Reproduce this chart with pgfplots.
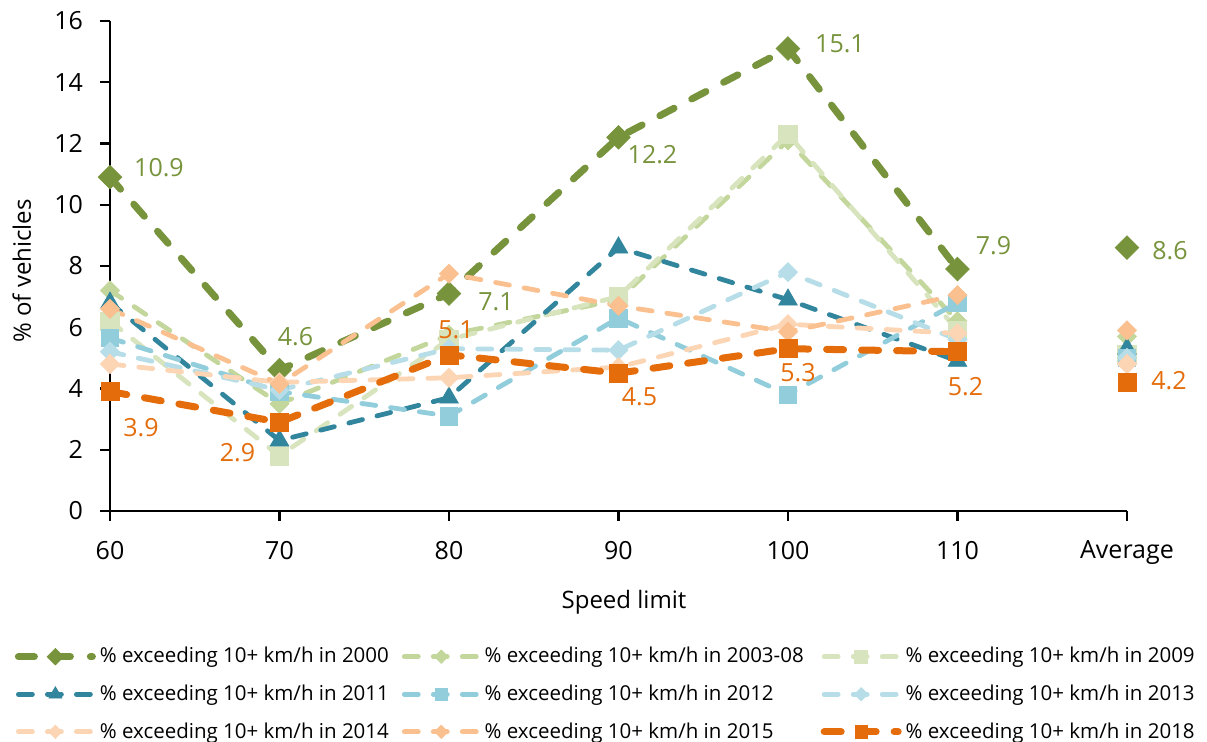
\documentclass[border=0pt]{standalone}
\usepackage{pgfplots}
\pgfplotsset{compat=1.18}
\usepackage{fontspec}
\setmainfont{Open Sans}

\definecolor{c2000}{HTML}{77933C}
\definecolor{c0308}{HTML}{C3D69B}
\definecolor{c2009}{HTML}{D7E4BD}
\definecolor{c2011}{HTML}{31859C}
\definecolor{c2012}{HTML}{92CDDC}
\definecolor{c2013}{HTML}{B7DEE8}
\definecolor{c2014}{HTML}{FCD5B5}
\definecolor{c2015}{HTML}{FAC090}
\definecolor{c2018}{HTML}{E46C0A}

\pgfplotsset{
  heavy/.style={line width=3.5pt, line cap=round, dash pattern=on 8pt off 10pt},
  light/.style={line width=2.4pt, line cap=round, dash pattern=on 7pt off 7.5pt},
  dmd/.style={mark=square*, mark options={solid, line width=0.3pt, rotate=45}, mark size=#1},
  sqr/.style={mark=square*, mark options={solid, line width=0.3pt}, mark size=#1},
  tri/.style={mark=triangle*, mark options={solid, line width=0.3pt}, mark size=#1},
}
\newcommand{\lfont}{\fontsize{12.5}{15}\selectfont}
\newcommand{\entryA}[1]{\makebox[151pt][l]{\% exceeding 10+ km/h in #1}}
\newcommand{\entryB}[1]{\makebox[168pt][l]{\% exceeding 10+ km/h in #1}}

\begin{document}
\begin{tikzpicture}
\useasboundingbox (-55pt,-115.5pt) rectangle (548.5pt,255.5pt);
\begin{axis}[
  scale only axis,
  width=508.5pt, height=245pt,
  xmin=0, xmax=6, ymin=0, ymax=16,
  axis lines*=left,
  axis line style={black, line width=1.2pt, -},
  xtick={0,1,2,3,4,5,6},
  xticklabels={60,70,80,90,100,110,Average},
  ytick={0,2,...,16},
  tick align=outside,
  major tick length=5pt,
  tick style={black, line width=1.2pt},
  /pgf/number format/assume math mode=true,
  tick label style={font=\lfont, text=black},
  xticklabel style={yshift=-6.5pt},
  yticklabel style={xshift=-5pt},
  xlabel={Speed limit},
  ylabel={\% of vehicles},
  xlabel style={font=\fontsize{12}{14}\selectfont, at={(axis description cs:0.5,0)}, anchor=center, yshift=-45.5pt, xshift=2.75pt},
  ylabel style={font=\fontsize{12}{14}\selectfont, at={(axis description cs:-0.0866,0.49)}, anchor=center},
  unbounded coords=jump,
  clip=false,
  legend columns=3,
  legend style={at={(axis description cs:0,0)}, anchor=north west,
    xshift=-47.75pt, yshift=-68pt, draw=none, fill=none, inner sep=0pt,
    font=\fontsize{10.25}{12}\selectfont,
    nodes={inner sep=0pt},
    /tikz/row sep=9.5pt,
    /tikz/column sep=0pt,
    /tikz/every odd column/.style={column sep=2pt}},
  legend cell align=left,
  legend image code/.code={\draw[mark repeat=2, mark phase=2, #1,
      every mark/.append style={scale=0.7}]
    plot coordinates {(0pt,0pt) (18.5pt,0pt) (37pt,0pt)};},
]
% 2000
\addplot[c2000, heavy, dmd=4.2pt] coordinates {
  (0,10.9) (1,4.6) (2,7.1) (3,12.2) (4,15.1) (5,7.9) (5.5,nan) (6,8.6)};
\addlegendentry{\entryA{2000}}
% 2003-08
\addplot[c0308, light, dmd=3.4pt] coordinates {
  (0,7.2) (1,3.5) (2,5.75) (3,6.9) (4,12.1) (5,6.2) (5.5,nan) (6,5.7)};
\addlegendentry{\entryB{2003-08}}
% 2009
\addplot[c2009, light, sqr=4.6pt] coordinates {
  (0,6.2) (1,1.8) (2,5.6) (3,7.0) (4,12.3) (5,5.9) (5.5,nan) (6,5.1)};
\addlegendentry{\% exceeding 10+ km/h in 2009}
% 2011
\addplot[c2011, light, tri=5.4pt] coordinates {
  (0,6.8) (1,2.3) (2,3.7) (3,8.6) (4,6.9) (5,4.9) (5.5,nan) (6,5.3)};
\addlegendentry{\entryA{2011}}
% 2012
\addplot[c2012, light, sqr=4.4pt] coordinates {
  (0,5.65) (1,3.9) (2,3.1) (3,6.3) (4,3.8) (5,6.8) (5.5,nan) (6,5.0)};
\addlegendentry{\entryB{2012}}
% 2013
\addplot[c2013, light, dmd=3.4pt] coordinates {
  (0,5.2) (1,3.95) (2,5.3) (3,5.25) (4,7.8) (5,5.6) (5.5,nan) (6,5.0)};
\addlegendentry{\% exceeding 10+ km/h in 2013}
% 2014
\addplot[c2014, light, dmd=3.4pt] coordinates {
  (0,4.8) (1,4.2) (2,4.35) (3,4.7) (4,6.1) (5,5.8) (5.5,nan) (6,4.8)};
\addlegendentry{\entryA{2014}}
% 2015
\addplot[c2015, light, dmd=3.4pt] coordinates {
  (0,6.6) (1,4.15) (2,7.75) (3,6.7) (4,5.85) (5,7.05) (5.5,nan) (6,5.9)};
\addlegendentry{\entryB{2015}}
% 2018
\addplot[c2018, heavy, sqr=4.5pt, dash pattern=on 8.5pt off 9pt] coordinates {
  (0,3.9) (1,2.9) (2,5.1) (3,4.5) (4,5.3) (5,5.2) (5.5,nan) (6,4.2)};
\addlegendentry{\% exceeding 10+ km/h in 2018}

% anchor points for the value labels
\coordinate (a0) at (axis cs:0,10.9);
\coordinate (a1) at (axis cs:1,4.6);
\coordinate (a2) at (axis cs:2,7.1);
\coordinate (a3) at (axis cs:3,12.2);
\coordinate (a4) at (axis cs:4,15.1);
\coordinate (a5) at (axis cs:5,7.9);
\coordinate (a6) at (axis cs:6,8.6);
\coordinate (b0) at (axis cs:0,3.9);
\coordinate (b1) at (axis cs:1,2.9);
\coordinate (b2) at (axis cs:2,5.1);
\coordinate (b3) at (axis cs:3,4.5);
\coordinate (b4) at (axis cs:4,5.3);
\coordinate (b5) at (axis cs:5,5.2);
\coordinate (b6) at (axis cs:6,4.2);
\end{axis}

% value labels, 2000
\begin{scope}[every node/.style={font=\lfont, text=c2000, anchor=center}]
\node[xshift=24.5pt, yshift=5pt]    at (a0) {10.9};
\node[xshift=8pt,   yshift=16.5pt]  at (a1) {4.6};
\node[xshift=23.5pt, yshift=-4pt]   at (a2) {7.1};
\node[xshift=17pt,  yshift=-8.5pt]  at (a3) {12.2};
\node[xshift=26pt,  yshift=2.5pt]   at (a4) {15.1};
\node[xshift=18pt,  yshift=11.5pt]  at (a5) {7.9};
\node[xshift=21.5pt, yshift=-1.5pt] at (a6) {8.6};
\end{scope}
% value labels, 2018
\begin{scope}[every node/.style={font=\lfont, text=c2018, anchor=center}]
\node[xshift=15.5pt, yshift=-18pt]  at (b0) {3.9};
\node[xshift=-21pt, yshift=-15pt]   at (b1) {2.9};
\node[xshift=3.5pt, yshift=12.5pt]  at (b2) {5.1};
\node[xshift=10.5pt, yshift=-12pt]  at (b3) {4.5};
\node[xshift=5pt,   yshift=-12pt]   at (b4) {5.3};
\node[xshift=4pt,   yshift=-17.5pt] at (b5) {5.2};
\node[xshift=21pt,  yshift=1pt]     at (b6) {4.2};
\end{scope}
\end{tikzpicture}
\end{document}
